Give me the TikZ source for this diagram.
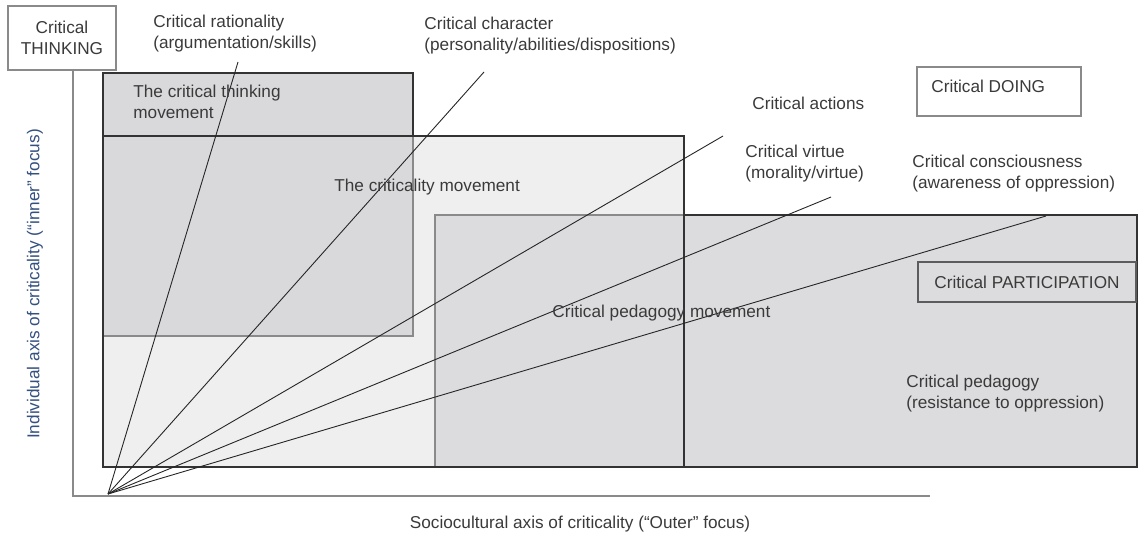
\documentclass[tikz,border=0pt]{standalone}
\usepackage{fontspec}
\setmainfont{Liberation Sans}
\definecolor{txt}{HTML}{3A3A3A}
\definecolor{ylab}{HTML}{34507F}
\definecolor{fillA}{HTML}{D9D9DB}
\definecolor{fillB}{HTML}{EFEFEF}
\definecolor{fillC}{HTML}{DCDCDE}
\definecolor{darkedge}{HTML}{333333}
\definecolor{lightedge}{HTML}{8A8A8A}
\begin{document}
\begin{tikzpicture}[x=0.5pt,y=-0.5pt,
  lbl/.style={font=\fontsize{8.6}{10.5}\selectfont, text=txt, inner sep=0pt, align=left},
  tagbox/.style={draw=lightedge, line width=0.6pt, fill=white, font=\fontsize{8.6}{10.5}\selectfont, text=txt},
  fan/.style={draw=black!85, line width=0.45pt},
  axisline/.style={draw=lightedge, line width=0.6pt}]
\useasboundingbox (0,0) rectangle (1139,537);
% criticality movement fill
\fill[fillB] (103,136) rectangle (684,467);
% critical thinking movement
\filldraw[fill=fillA, draw=lightedge, line width=0.6pt] (103,73) rectangle (413,336);
\draw[darkedge, line width=0.7pt] (103,136) |- (413,73) -- (413,136);
% critical pedagogy movement
\filldraw[fill=fillC, draw=lightedge, line width=0.6pt] (435,215) rectangle (1137,467);
\draw[darkedge, line width=0.7pt] (684,215) -- (1137,215) -- (1137,467) -- (684,467);
% criticality movement border
\draw[darkedge, line width=0.8pt] (103,136) rectangle (684,467);

% boxes
\node[tagbox, minimum width=54pt, minimum height=32pt, align=center, inner sep=0pt] (think) at (62,38) {Critical\\THINKING};
\node[tagbox, minimum width=82pt, minimum height=24.5pt, inner sep=0pt] (doing) at (999,91.5) {};
\node[lbl, anchor=west] (doingt) at (931,86) {Critical DOING};
\node[tagbox, minimum width=109pt, minimum height=20pt, inner sep=0pt, draw=darkedge!80, fill=fillC] (part) at (1027,282) {Critical PARTICIPATION};

% axes
\coordinate (ax) at (73,496);
\coordinate (axend) at (930,496);
\draw[axisline] (think.south -| ax) -- (ax) -- (axend);

% fan lines
\coordinate (O) at (108,494);
\coordinate (r1) at (238,62);
\coordinate (r2) at (484,72);
\coordinate (r3) at (723,136);
\coordinate (r4) at (831,197);
\coordinate (r5) at (1046,216);
\foreach \e in {r1,r2,r3,r4,r5} \draw[fan] (O) -- (\e);

% labels
\node[lbl, anchor=west] (rat) at (153,34) {Critical rationality\\(argumentation/skills)};
\node[lbl, anchor=west] (cha) at (424,35.5) {Critical character\\(personality/abilities/dispositions)};
\node[lbl, anchor=west] (act) at (752,103) {Critical actions};
\node[lbl, anchor=west] (vir) at (745,163.5) {Critical virtue\\(morality/virtue)};
\node[lbl, anchor=west] (con) at (912,174) {Critical consciousness\\(awareness of oppression)};
\node[lbl, anchor=west] (ctm) at (133,101.5) {The critical thinking\\movement};
\node[lbl, anchor=west] (cm) at (334,187) {The criticality movement};
\node[lbl, anchor=west] (cpm) at (552,313) {Critical pedagogy movement};
\node[lbl, anchor=west] (cp) at (906,393.5) {Critical pedagogy\\(resistance to oppression)};
\node[lbl, text=ylab, rotate=90, align=center] (ylabel) at (35,284) {Individual axis of criticality (\textquotedblleft inner\textquotedblright\ focus)};
\node[lbl, align=center] (xlabel) at (580,524) {Sociocultural axis of criticality (\textquotedblleft Outer\textquotedblright\ focus)};
\end{tikzpicture}
\end{document}
